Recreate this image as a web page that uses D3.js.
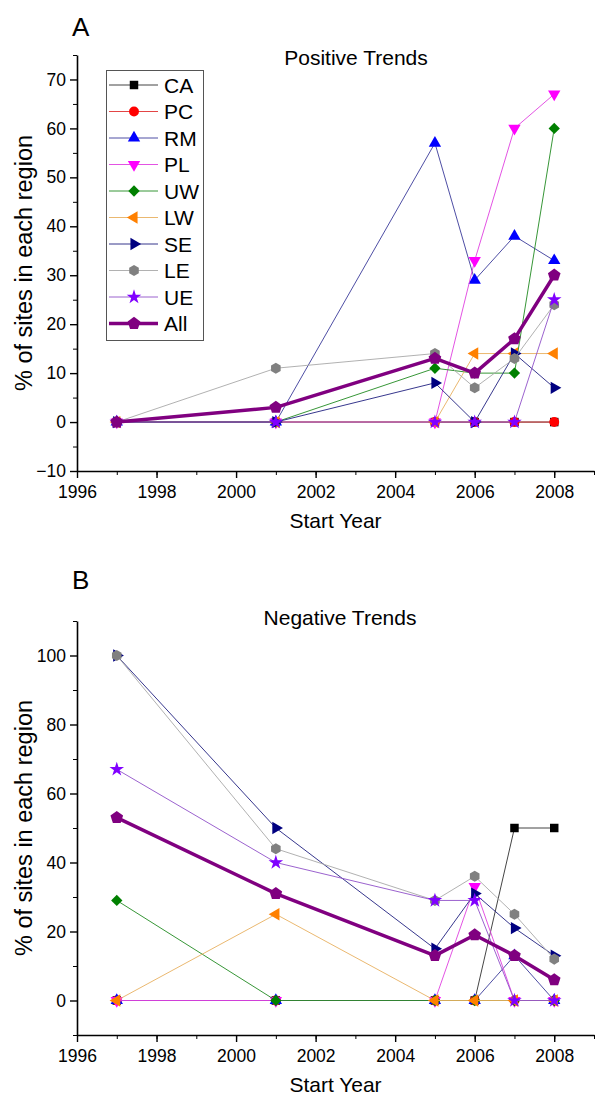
<!DOCTYPE html>
<html>
<head>
<meta charset="utf-8">
<script src="https://cdn.jsdelivr.net/npm/d3@7"></script>
<style>
  body { margin: 0; background: #fff; }
  svg { display: block; font-family: "Liberation Sans", Arial, sans-serif; }
</style>
</head>
<body>
<svg id="chart" width="595" height="1100"></svg>
<script>
const years = [1997, 2001, 2005, 2006, 2007, 2008];
const regions = ['CA', 'PC', 'RM', 'PL', 'UW', 'LW', 'SE', 'LE', 'UE', 'All'];

// panel A, positive trends (% of sites)
const posCA  = [0, 0, 0, 0, 0, 0];
const posPC  = [0, 0, 0, 0, 0, 0];
const posRM  = [0, 0, 57, 29, 38, 33];
const posPL  = [0, 0, 0, 33, 60, 67];
const posUW  = [0, 0, 11, 10, 10, 60];
const posLW  = [0, 0, 0, 14, 14, 14];
const posSE  = [0, 0, 8, 0, 14, 7];
const posLE  = [0, 11, 14, 7, 13, 24];
const posUE  = [0, 0, 0, 0, 0, 25];
const posAll = [0, 3, 13, 10, 17, 30];

// panel B, negative trends (% of sites)
const negCA  = [0, 0, 0, 0, 50, 50];
const negPC  = [0, 0, 0, 0, 0, 0];
const negRM  = [0, 0, 0, 0, 13, 0];
const negPL  = [0, 0, 0, 33, 0, 0];
const negUW  = [29, 0, 0, 0, 0, 0];
const negLW  = [0, 25, 0, 0, 0, 0];
const negSE  = [100, 50, 15, 31, 21, 13];
const negLE  = [100, 44, 29, 36, 25, 12];
const negUE  = [67, 40, 29, 29, 0, 0];
const negAll = [53, 31, 13, 19, 13, 6];

const xTicksMajor = [1996, 1998, 2000, 2002, 2004, 2006, 2008];
const yTicksA = [-10, 0, 10, 20, 30, 40, 50, 60, 70];
const yTicksB = [0, 20, 40, 60, 80, 100];

const posValues = [posCA, posPC, posRM, posPL, posUW, posLW, posSE, posLE, posUE, posAll];
const negValues = [negCA, negPC, negRM, negPL, negUW, negLW, negSE, negLE, negUE, negAll];

// custom marker shapes
const hexagon = {
  draw(ctx, size) {
    const r = Math.sqrt(size / 2.598);
    for (let i = 0; i < 6; i++) {
      const a = Math.PI / 3 * i + Math.PI / 6;
      if (i) ctx.lineTo(r * Math.cos(a), r * Math.sin(a));
      else ctx.moveTo(r * Math.cos(a), r * Math.sin(a));
    }
    ctx.closePath();
  }
};
const pentagon = {
  draw(ctx, size) {
    const r = Math.sqrt(size / 2.378);
    for (let i = 0; i < 5; i++) {
      const a = -Math.PI / 2 + 2 * Math.PI / 5 * i;
      if (i) ctx.lineTo(r * Math.cos(a), r * Math.sin(a));
      else ctx.moveTo(r * Math.cos(a), r * Math.sin(a));
    }
    ctx.closePath();
  }
};

const style = {
  CA:  {fill: '#000000', line: '#303030', sym: d3.symbolSquare, size: 72, rot: 0, w: 0.9},
  PC:  {fill: '#ff0000', line: '#e03030', sym: d3.symbolCircle, size: 78, rot: 0, w: 0.9},
  RM:  {fill: '#0000ff', line: '#3a3a9a', sym: d3.symbolTriangle, size: 66, rot: 0, w: 0.9},
  PL:  {fill: '#ff00ff', line: '#e040e0', sym: d3.symbolTriangle, size: 66, rot: 180, w: 0.9},
  UW:  {fill: '#008000', line: '#208a20', sym: d3.symbolSquare, size: 64, rot: 45, w: 0.9},
  LW:  {fill: '#ff8000', line: '#e8b060', sym: d3.symbolTriangle, size: 66, rot: -90, w: 0.9},
  SE:  {fill: '#000080', line: '#202080', sym: d3.symbolTriangle, size: 66, rot: 90, w: 0.9},
  LE:  {fill: '#808080', line: '#a8a8a8', sym: hexagon, size: 80, rot: 0, w: 0.9},
  UE:  {fill: '#8000ff', line: '#9050c8', sym: d3.symbolStar, size: 66, rot: 0, w: 0.9},
  All: {fill: '#800080', line: '#800080', sym: pentagon, size: 105, rot: 0, w: 3.5}
};

const svg = d3.select('#chart');
svg.append('rect').attr('width', 595).attr('height', 1100).attr('fill', '#fff');

const x = d3.scaleLinear().domain([1996, 2009]).range([77, 594]);

function drawPanel(opt) {
  const y = d3.scaleLinear().domain(opt.yDomain).range(opt.yRange);
  const g = svg.append('g');
  const bottom = opt.yRange[0];

  // minor ticks
  g.append('g')
    .attr('transform', `translate(0,${bottom})`)
    .call(d3.axisBottom(x).tickValues(d3.range(1996, 2010)).tickSize(4).tickFormat(''))
    .call(a => a.select('.domain').remove());
  g.append('g')
    .attr('transform', `translate(${x(1996)},0)`)
    .call(d3.axisLeft(y).tickValues(opt.yMinor).tickSize(4).tickFormat(''))
    .call(a => a.select('.domain').remove());

  // major axes
  const xa = g.append('g')
    .attr('transform', `translate(0,${bottom})`)
    .call(d3.axisBottom(x).tickValues(xTicksMajor).tickSize(7).tickSizeOuter(0).tickPadding(8).tickFormat(d3.format('d')));
  const ya = g.append('g')
    .attr('transform', `translate(${x(1996)},0)`)
    .call(d3.axisLeft(y).tickValues(opt.yTicks).tickSize(7).tickSizeOuter(0).tickPadding(4));
  [xa, ya].forEach(a => {
    a.attr('font-size', null).attr('font-family', null);
    a.selectAll('text').attr('font-size', 17.5).attr('fill', '#000');
    a.selectAll('line').attr('stroke-width', 1.4);
    a.select('.domain').attr('stroke-width', 1.6);
  });
  g.selectAll('.tick line').attr('stroke', '#000');

  // series
  const line = d3.line().x((d, i) => x(years[i])).y(d => y(d));
  regions.forEach((r, k) => {
    const s = style[r];
    const vals = opt.values[k];
    const sg = g.append('g');
    sg.append('path')
      .attr('d', line(vals))
      .attr('fill', 'none')
      .attr('stroke', s.line)
      .attr('stroke-width', s.w)
      .attr('stroke-linejoin', 'round');
    sg.selectAll('path.m')
      .data(vals)
      .join('path')
      .attr('class', 'm')
      .attr('d', d3.symbol(s.sym, s.size))
      .attr('fill', s.fill)
      .attr('transform', (d, i) => `translate(${x(years[i])},${y(d)}) rotate(${s.rot})`);
  });

  // texts
  g.append('text').attr('x', 72).attr('y', opt.letterY).attr('font-size', 26).text(opt.letter);
  g.append('text').attr('x', opt.titleX).attr('y', opt.titleY).attr('font-size', 21)
    .attr('text-anchor', 'middle').text(opt.title);
  g.append('text').attr('x', (x.range()[0] + x.range()[1]) / 2).attr('y', bottom + 57)
    .attr('font-size', 21).attr('text-anchor', 'middle').text('Start Year');
  const cy = (opt.yRange[0] + opt.yRange[1]) / 2;
  g.append('text').attr('transform', `translate(32,${cy}) rotate(-90)`)
    .attr('font-size', 23.5).attr('text-anchor', 'middle').text('% of sites in each region');
}

drawPanel({
  values: posValues, yDomain: [-10, 75], yRange: [471, 55],
  yTicks: yTicksA, yMinor: d3.range(-5, 80, 10),
  letter: 'A', letterY: 36, title: 'Positive Trends', titleX: 356, titleY: 65
});
drawPanel({
  values: negValues, yDomain: [-10, 110], yRange: [1035, 621],
  yTicks: yTicksB, yMinor: d3.range(-10, 120, 20),
  letter: 'B', letterY: 589, title: 'Negative Trends', titleX: 340, titleY: 625
});

// legend (panel A)
const lg = svg.append('g');
lg.append('rect').attr('x', 106.5).attr('y', 70.5).attr('width', 97).attr('height', 270)
  .attr('fill', '#fff').attr('stroke', '#555').attr('stroke-width', 1);
regions.forEach((r, i) => {
  const s = style[r];
  const yy = 85 + i * 26.5;
  lg.append('line').attr('x1', 109).attr('x2', 158).attr('y1', yy).attr('y2', yy)
    .attr('stroke', s.line).attr('stroke-width', s.w);
  lg.append('path').attr('d', d3.symbol(s.sym, s.size))
    .attr('fill', s.fill).attr('transform', `translate(134,${yy}) rotate(${s.rot})`);
  lg.append('text').attr('x', 164).attr('y', yy).attr('dy', '0.36em')
    .attr('font-size', 21).text(r);
});
</script>
</body>
</html>
